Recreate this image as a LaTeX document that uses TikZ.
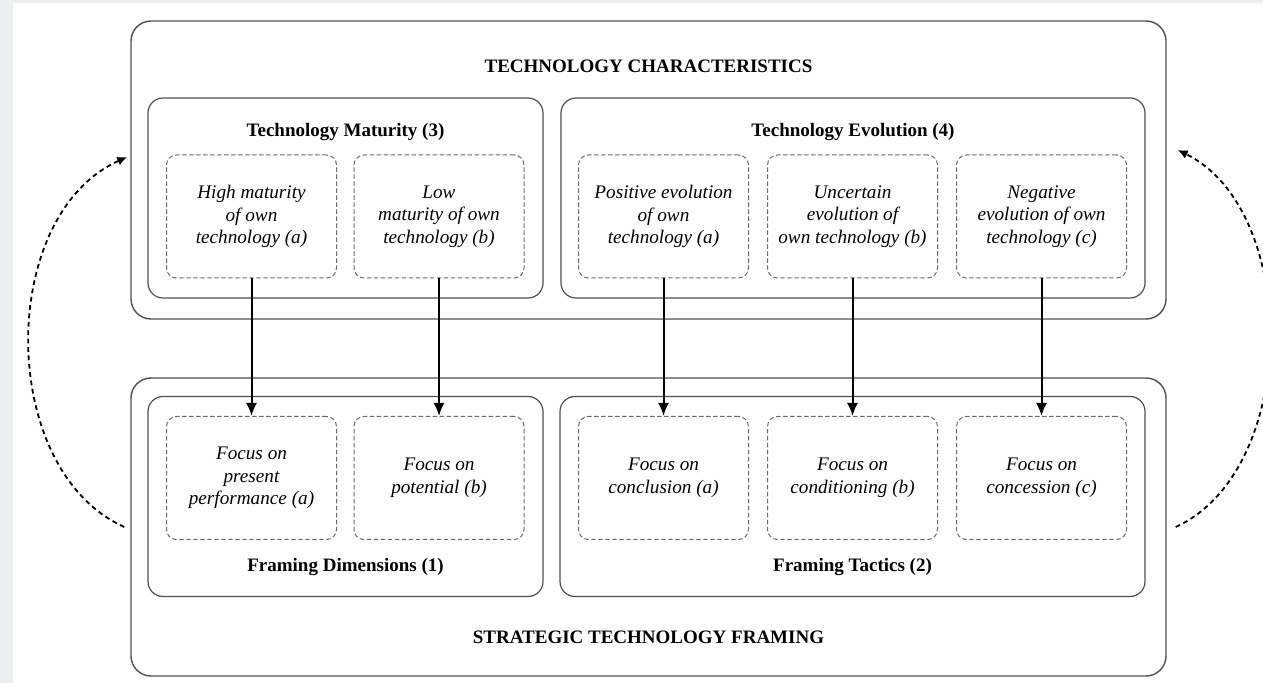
\documentclass[tikz,border=0pt]{standalone}
\usepackage{fontspec}
\setmainfont{Liberation Serif}
\usepackage{tikz}
\usetikzlibrary{arrows.meta}

\definecolor{pagegray}{HTML}{ECEFF0}
\definecolor{boxline}{HTML}{505050}
\definecolor{dashline}{HTML}{6A6A6A}

\begin{document}
\begin{tikzpicture}[x=0.5pt, y=-0.5pt,
    outerbox/.style={draw=boxline, line width=0.7pt, rounded corners=10pt,
        minimum width=517.5pt, minimum height=149pt, inner sep=0pt},
    groupbox/.style={draw=boxline, line width=0.6pt, rounded corners=7.5pt,
        minimum height=100pt, inner sep=0pt},
    itembox/.style={draw=dashline, line width=0.5pt, dash pattern=on 2.2pt off 1.3pt,
        rounded corners=5pt, minimum width=85pt, minimum height=61.5pt, inner sep=0pt,
        align=center, font=\fontsize{9.6}{11.3}\selectfont\itshape},
    heading/.style={font=\fontsize{9.5}{11.25}\selectfont\bfseries},
    effect/.style={line width=1pt, -{Latex[length=6.5pt,width=5.5pt]}},
    feedback/.style={line width=0.9pt, dash pattern=on 2.4pt off 1.8pt,
        -{Latex[length=5pt,width=4.5pt]}}]

    % Page
    \fill[pagegray] (0,0) rectangle (1263,683);
    \fill[white] (13,3) rectangle (1263,683);
    \useasboundingbox (0,0) rectangle (1263,683);

    % Technology characteristics
    \node[outerbox] (tc) at (648.5,170) {};
    \node[heading] (tc-title) at (648.5,66) {TECHNOLOGY CHARACTERISTICS};
    \node[groupbox, minimum width=197.5pt] (mat) at (345.5,198) {};
    \node[heading] (mat-title) at (345.5,132) {Technology Maturity (3)};
    \node[groupbox, minimum width=292pt] (evo) at (853,198) {};
    \node[heading] (evo-title) at (853,132) {Technology Evolution (4)};
    \node[itembox] (mat-a) at (251.5,216.5) {High maturity\\of own\\technology (a)};
    \node[itembox] (mat-b) at (439,216.5) {Low\\maturity of own\\technology (b)};
    \node[itembox] (evo-a) at (663.5,216.5) {Positive evolution\\of own\\technology (a)};
    \node[itembox] (evo-b) at (852.5,216.5) {Uncertain\\evolution of\\own technology (b)};
    \node[itembox] (evo-c) at (1041.5,216.5) {Negative\\evolution of own\\technology (c)};

    % Strategic technology framing
    \node[outerbox] (stf) at (648.5,527) {};
    \node[heading] (stf-title) at (648.5,637) {STRATEGIC TECHNOLOGY FRAMING};
    \node[groupbox, minimum width=197.5pt] (dim) at (345.5,496.5) {};
    \node[heading] (dim-title) at (345.5,567) {Framing Dimensions (1)};
    \node[groupbox, minimum width=292.5pt] (tac) at (852.5,496.5) {};
    \node[heading] (tac-title) at (852.5,567) {Framing Tactics (2)};
    \node[itembox] (dim-a) at (251.5,478) {Focus on\\present\\performance (a)};
    \node[itembox] (dim-b) at (439,478) {Focus on\\potential (b)};
    \node[itembox] (tac-a) at (663.5,478) {Focus on\\conclusion (a)};
    \node[itembox] (tac-b) at (852.5,478) {Focus on\\conditioning (b)};
    \node[itembox] (tac-c) at (1041.5,478) {Focus on\\concession (c)};

    % Characteristics drive the framing
    \foreach \from/\to in {mat-a/dim-a, mat-b/dim-b, evo-a/tac-a, evo-b/tac-b, evo-c/tac-c}
        \draw[effect] (\from) -- (\to);

    % Feedback loops
    \draw[feedback] ([xshift=-3pt]stf.west) .. controls (-3,470) and (-3,215) ..
        ([xshift=-1.5pt,yshift=6.5pt]tc.west);
    \draw[feedback] ([xshift=4.5pt]stf.east) .. controls (1300,470) and (1300,210) ..
        ([xshift=5.5pt,yshift=10pt]tc.east);
\end{tikzpicture}
\end{document}
